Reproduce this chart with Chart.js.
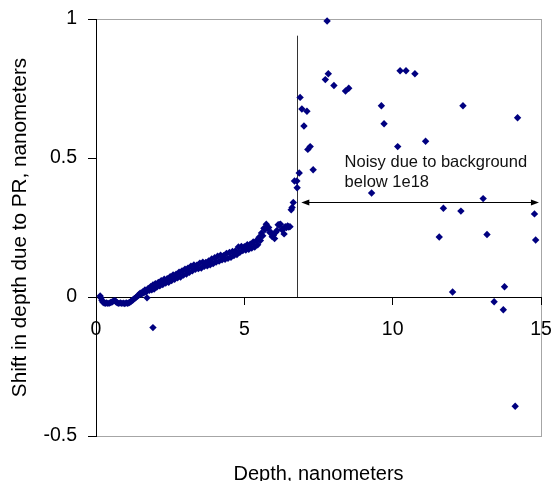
<!DOCTYPE html>
<html>
<head>
<meta charset="utf-8">
<title>Shift in depth due to PR</title>
<script src="https://cdn.jsdelivr.net/npm/chart.js@4/dist/chart.umd.min.js"></script>
<style>
  body { margin: 0; background: #fff; }
  #wrap { width: 555px; height: 481px; position: relative; }
</style>
</head>
<body>
<div id="wrap"><canvas id="chart"></canvas></div>
<script>
// smooth part of the profile (depth in nm, shift in nm)
const curveDepth = [
    0.14, 0.17, 0.20, 0.23, 0.27, 0.31, 0.35, 0.40, 0.45, 0.50,
    0.55, 0.60, 0.64, 0.68, 0.72, 0.77, 0.82, 0.87, 0.92, 0.97,
    1.02, 1.07, 1.12, 1.17, 1.21, 1.25, 1.29, 1.33, 1.37, 1.41,
    1.45, 1.49, 1.53, 1.57, 1.61, 1.65, 1.69, 1.72, 1.76, 1.80,
    1.84, 1.88, 1.92, 1.96, 2.00, 2.05, 2.10, 2.15, 2.20, 2.25,
    2.30, 2.35, 2.40, 2.45, 2.50, 2.55, 2.60, 2.65, 2.70, 2.75,
    2.80, 2.85, 2.90, 2.95, 3.00, 3.05, 3.10, 3.15, 3.20, 3.25,
    3.30, 3.35, 3.40, 3.45, 3.50, 3.55, 3.60, 3.65, 3.70, 3.75,
    3.80, 3.85, 3.90, 3.95, 4.00, 4.05, 4.10, 4.15, 4.20, 4.25,
    4.30, 4.35, 4.40, 4.45, 4.50, 4.55, 4.60, 4.65, 4.70, 4.75,
    4.80, 4.85, 4.90, 4.95, 5.00, 5.05, 5.10, 5.15, 5.20, 5.25,
    5.30, 5.35, 5.40, 5.45, 5.50, 5.54, 5.58, 5.62, 5.66, 5.70,
    5.74, 5.78, 5.82, 5.86, 5.90, 5.94, 5.98, 6.02, 6.06, 6.10,
    6.14, 6.18, 6.22, 6.26, 6.30, 6.34, 6.38, 6.42, 6.46, 6.50,
    6.54, 6.58, 6.61, 6.65, 6.69, 6.77, 6.78, 6.85
];
const curveShift = [
    0.004, -0.004, -0.012, -0.018, -0.021, -0.023, -0.021, -0.023, -0.022, -0.020,
    -0.017, -0.014, -0.013, -0.018, -0.021, -0.023, -0.021, -0.023, -0.022, -0.024,
    -0.021, -0.023, -0.020, -0.017, -0.013, -0.010, -0.006, -0.003, 0.001, 0.004,
    0.008, 0.014, 0.010, 0.018, 0.015, 0.025, 0.018, -0.003, 0.031, 0.024,
    0.037, 0.026, 0.043, 0.029, 0.048, 0.036, 0.052, 0.040, 0.059, 0.045,
    0.064, 0.050, 0.066, 0.053, 0.073, 0.059, 0.079, 0.064, 0.082, 0.069,
    0.089, 0.072, 0.094, 0.079, 0.100, 0.083, 0.104, 0.089, 0.111, 0.094,
    0.115, 0.100, 0.114, 0.102, 0.122, 0.104, 0.125, 0.110, 0.124, 0.112,
    0.130, 0.116, 0.137, 0.120, 0.141, 0.126, 0.147, 0.129, 0.150, 0.134,
    0.149, 0.136, 0.157, 0.139, 0.160, 0.143, 0.164, 0.149, 0.166, 0.153,
    0.180, 0.161, 0.182, 0.167, 0.181, 0.169, 0.188, 0.172, 0.190, 0.176,
    0.198, 0.180, 0.202, 0.188, 0.215, 0.203, 0.230, 0.220, 0.247, 0.243,
    0.262, 0.248, 0.250, 0.232, 0.232, 0.217, 0.222, 0.210, 0.233, 0.239,
    0.260, 0.260, 0.262, 0.243, 0.243, 0.227, 0.253, 0.250, 0.256, 0.252,
    0.253, 0.314, 0.322, 0.340, 0.417, 0.417, 0.393, 0.446
];
// noisy points past the cutoff (plus one stray point)
const noisyDepth = [
    1.92, 6.88, 6.94, 7.01, 7.11, 7.14, 7.22, 7.32, 7.73, 7.79,
    7.83, 8.02, 8.41, 8.52, 9.29, 9.62, 9.71, 10.17, 10.25, 10.45,
    10.75, 11.11, 11.57, 11.71, 12.02, 12.30, 12.37, 13.05, 13.18, 13.42,
    13.73, 13.77, 14.13, 14.21, 14.78, 14.82
];
const noisyShift = [
    -0.110, 0.718, 0.676, 0.615, 0.668, 0.531, 0.541, 0.458, 0.782, 0.993,
    0.803, 0.761, 0.741, 0.751, 0.374, 0.688, 0.623, 0.541, 0.814, 0.814,
    0.803, 0.560, 0.216, 0.319, 0.018, 0.309, 0.688, 0.354, 0.225, -0.017,
    -0.046, 0.037, -0.393, 0.645, 0.299, 0.205
];

// annotation: cutoff line, arrow and note (data units)
const cutoffDepth = 6.76;
const cutoffTop = 0.94;
const arrowShift = 0.342;
const arrowFrom = 6.92;
const arrowTo = 14.93;
const noteDepth = 8.38;
const noteShift = [0.483, 0.411];
const noteLines = ['Noisy due to background', 'below 1e18'];

const FONT = '"Liberation Sans", Arial, sans-serif';

const points = curveDepth.map((d, i) => ({ x: d, y: curveShift[i] }))
    .concat(noisyDepth.map((d, i) => ({ x: d, y: noisyShift[i] })));

const annotate = {
    id: 'annotate',
    beforeDraw(chart) {
        const { ctx, chartArea: a } = chart;
        ctx.save();
        ctx.strokeStyle = '#a6a6a6';
        ctx.lineWidth = 1;
        ctx.strokeRect(a.left + 0.5, a.top + 0.5, a.right - a.left, a.bottom - a.top);
        ctx.restore();
    },
    beforeDatasetsDraw(chart) {
        const { ctx, scales: { x, y } } = chart;
        ctx.save();
        // cutoff line
        const cx = Math.round(x.getPixelForValue(cutoffDepth)) + 0.5;
        ctx.strokeStyle = '#333';
        ctx.lineWidth = 1;
        ctx.beginPath();
        ctx.moveTo(cx, y.getPixelForValue(cutoffTop));
        ctx.lineTo(cx, y.getPixelForValue(0));
        ctx.stroke();
        // double arrow
        const ay = Math.round(y.getPixelForValue(arrowShift)) + 0.5;
        const x1 = x.getPixelForValue(arrowFrom);
        const x2 = x.getPixelForValue(arrowTo);
        ctx.strokeStyle = '#000';
        ctx.fillStyle = '#000';
        ctx.beginPath();
        ctx.moveTo(x1 + 4, ay);
        ctx.lineTo(x2 - 4, ay);
        ctx.stroke();
        ctx.beginPath();
        ctx.moveTo(x1, ay); ctx.lineTo(x1 + 8, ay - 3); ctx.lineTo(x1 + 8, ay + 3);
        ctx.closePath(); ctx.fill();
        ctx.beginPath();
        ctx.moveTo(x2, ay); ctx.lineTo(x2 - 8, ay - 3); ctx.lineTo(x2 - 8, ay + 3);
        ctx.closePath(); ctx.fill();
        ctx.restore();
    },
    afterDatasetsDraw(chart) {
        const { ctx, scales: { x, y } } = chart;
        ctx.save();
        ctx.font = '16.5px ' + FONT;
        ctx.fillStyle = '#111';
        ctx.textAlign = 'left';
        ctx.textBaseline = 'middle';
        noteLines.forEach((t, i) => {
            ctx.fillText(t, x.getPixelForValue(noteDepth), y.getPixelForValue(noteShift[i]));
        });
        ctx.restore();
    }
};

const ctx = document.getElementById('chart').getContext('2d');
const myChart = new Chart(ctx, {
    type: 'scatter',
    data: {
        datasets: [{
            label: 'Shift',
            data: points,
            pointStyle: 'rectRot',
            pointRadius: 3.7,
            borderWidth: 0,
            backgroundColor: '#000080',
            borderColor: '#000080',
            clip: false
        }]
    },
    options: {
        responsive: true,
        maintainAspectRatio: false,
        animation: false,
        layout: { padding: { top: 19, right: 14, bottom: 45, left: 0 } },
        plugins: {
            legend: { display: false },
            tooltip: { enabled: false }
        },
        scales: {
            x: {
                type: 'linear',
                min: 0,
                max: 15,
                position: { y: 0 },
                ticks: { stepSize: 5, color: '#000', padding: 14, maxRotation: 0,
                         font: { family: FONT, size: 19.5 } },
                grid: { drawOnChartArea: false, tickLength: 7, color: '#000' },
                border: { color: '#000', width: 1 },
                title: { display: true, text: 'Depth, nanometers', color: '#000', padding: 0,
                         font: { family: FONT, size: 20 } },
                afterFit(scale) {
                    scale.height = 189;
                    scale.paddingRight = 0;
                    scale.paddingLeft = 0;
                }
            },
            y: {
                type: 'linear',
                min: -0.5,
                max: 1,
                ticks: { stepSize: 0.5, color: '#000', padding: 11,
                         font: { family: FONT, size: 19.5 },
                         callback: v => String(v) },
                grid: { drawOnChartArea: false, tickLength: 8, color: '#000' },
                border: { color: '#000', width: 1 },
                title: { display: true, text: 'Shift in depth due to PR, nanometers', color: '#000',
                         padding: { top: 8, bottom: 0 }, font: { family: FONT, size: 20.7 } },
                afterFit(scale) {
                    scale.width = 96;
                    scale.paddingTop = 0;
                    scale.paddingBottom = 0;
                }
            }
        }
    },
    plugins: [annotate]
});
</script>
</body>
</html>
